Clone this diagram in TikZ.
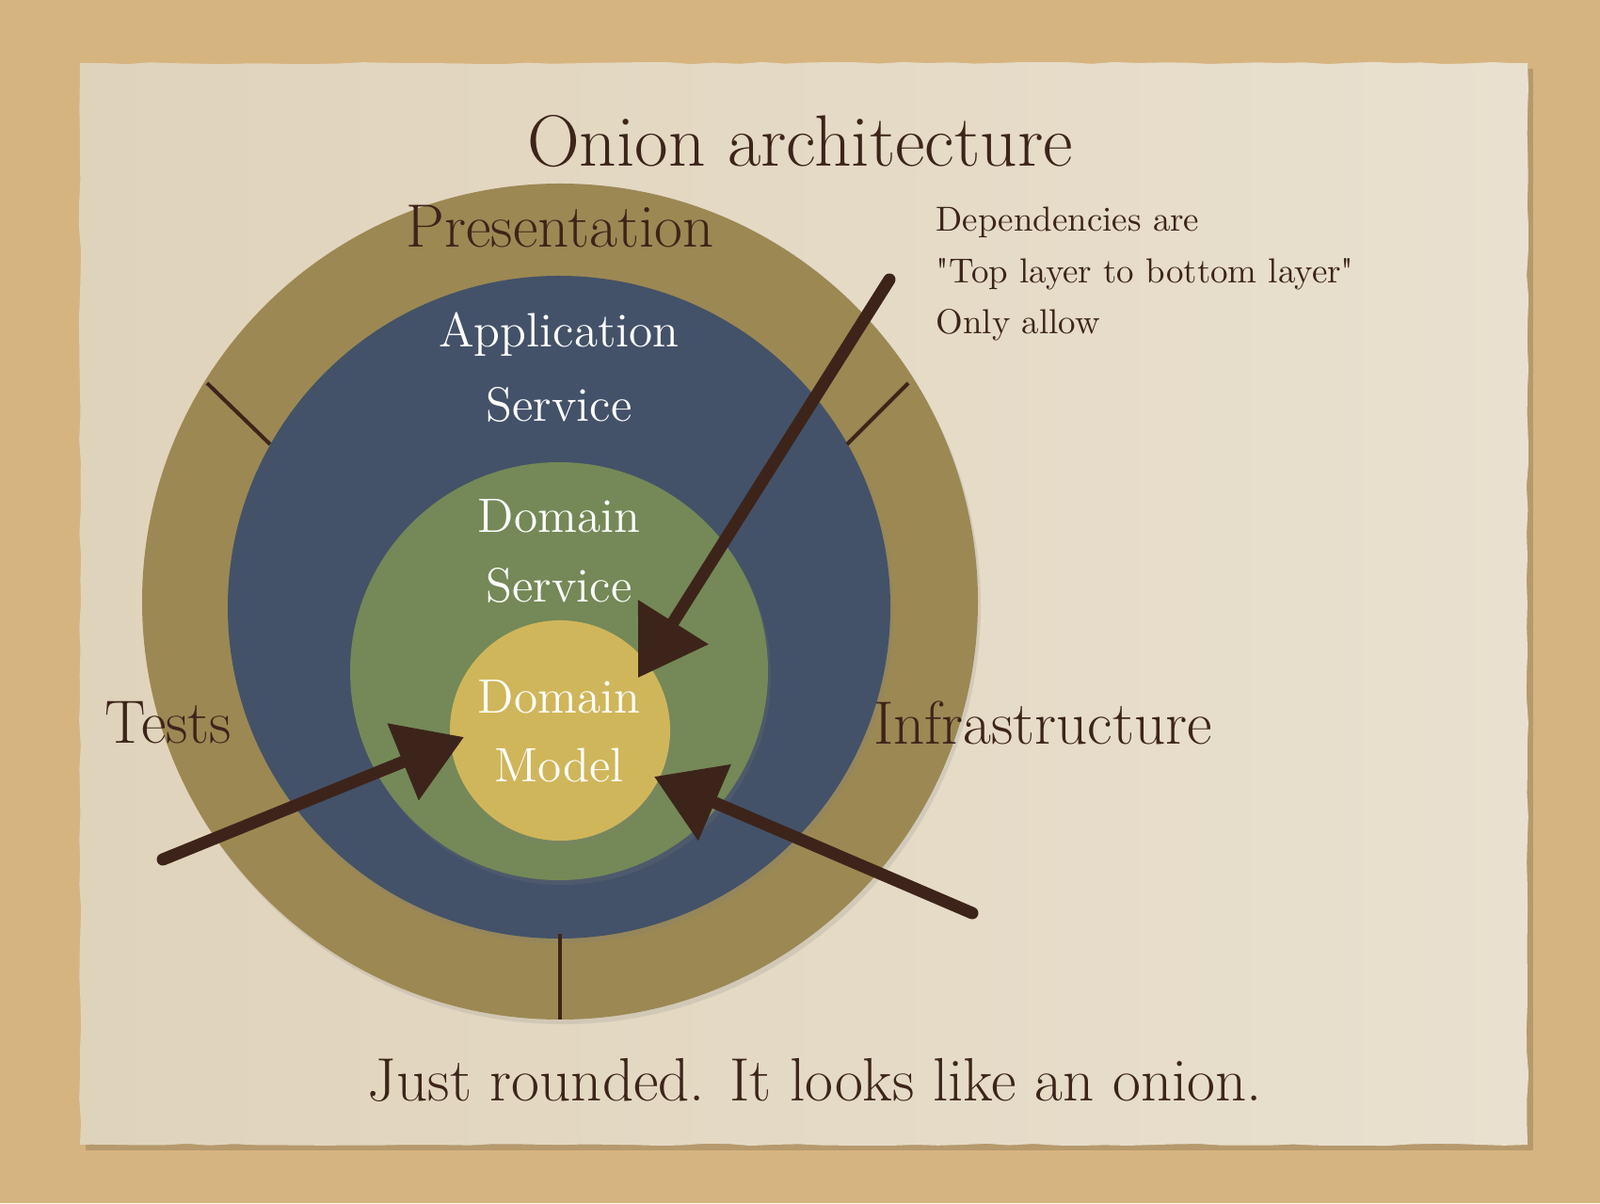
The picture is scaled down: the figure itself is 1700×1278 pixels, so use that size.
\documentclass[tikz,border=0pt]{standalone}
\usepackage{fontspec}
\usetikzlibrary{arrows.meta}
\usetikzlibrary{shadows}
\usetikzlibrary{decorations.pathmorphing}
\usepackage{xcolor}
\newfontfamily\plainquotes{Latin Modern Roman}

\definecolor{sand}{RGB}{214,180,128}
\definecolor{paperL}{RGB}{224,211,187}
\definecolor{paperR}{RGB}{233,224,207}
\definecolor{olive}{RGB}{156,136,83}
\definecolor{slate}{RGB}{67,82,104}
\definecolor{sage}{RGB}{116,137,87}
\definecolor{mustard}{RGB}{208,182,90}
\definecolor{ink}{RGB}{61,36,26}

\tikzset{
  layer/.style={drop shadow={opacity=.18,shadow xshift=.3mm,shadow yshift=-.5mm}},
  darklabel/.style={text=ink, font=\fontsize{18.5}{22}\selectfont},
  lightlabel/.style={text=white, font=\fontsize{14.6}{17}\selectfont},
  chalk/.style={ink, line width=1.3mm, line cap=round, -{Triangle[length=7mm,width=8.5mm]}},
  divider/.style={ink, line width=.4mm}
}

\begin{document}
\begin{tikzpicture}[x=.1mm,y=.1mm]
\useasboundingbox (0,0) rectangle (1700,1278);
\fill[sand] (0,0) rectangle (1700,1278);
% sheet of paper
\fill[black, opacity=.15] (91,56) rectangle (1629,1205);
\shade[left color=paperL, right color=paperR, decorate, decoration={random steps, segment length=2.5mm, amplitude=.12mm}] (85,62) rectangle (1623,1211);

% the onion
\fill[olive, layer] (595,639) circle (444);
\fill[slate, layer] (594,633) circle (352);
\fill[sage, layer] (594,565) circle (222);
\fill[mustard, layer] (595,502) circle (117);

\draw[divider] (220,871) -- (287,806);
\draw[divider] (965,871) -- (900,806);
\draw[divider] (595,286) -- (595,195);

% texts
\node[text=ink, font=\fontsize{22}{26}\selectfont] (title) at (850,1128) {Onion architecture};
\node[darklabel] (pres) at (595,1037) {Presentation};
\node[lightlabel] (app) at (594,923) {Application};
\node[lightlabel] (appsrv) at (594,848) {Service};
\node[lightlabel] (dom) at (594,730) {Domain};
\node[lightlabel] (domsrv) at (594,656) {Service};
\node[lightlabel] (core) at (594,538) {Domain};
\node[lightlabel] (model) at (594,465) {Model};
\node[darklabel] (tests) at (179,510) {Tests};
\node[darklabel] (infra) at (1108,510) {Infrastructure};
\node[text=ink, anchor=west, align=left, inner sep=0, font=\fontsize{10.5}{15.5}\selectfont] (deps) at (994,987)
  {Dependencies are\\{\plainquotes"}Top layer to bottom layer{\plainquotes"}\\Only allow};
\node[darklabel] (note) at (866,131) {Just rounded. It looks like an onion.};

% dependency arrows
\coordinate (topTail) at (945,981);
\coordinate (topTip) at (678,558);
\coordinate (testTail) at (173,365);
\coordinate (testTip) at (493,495);
\coordinate (infraTail) at (1033,308);
\coordinate (infraTip) at (695,453);
\draw[chalk] (topTail) -- (topTip);
\draw[chalk] (testTail) -- (testTip);
\draw[chalk] (infraTail) -- (infraTip);
\end{tikzpicture}
\end{document}
